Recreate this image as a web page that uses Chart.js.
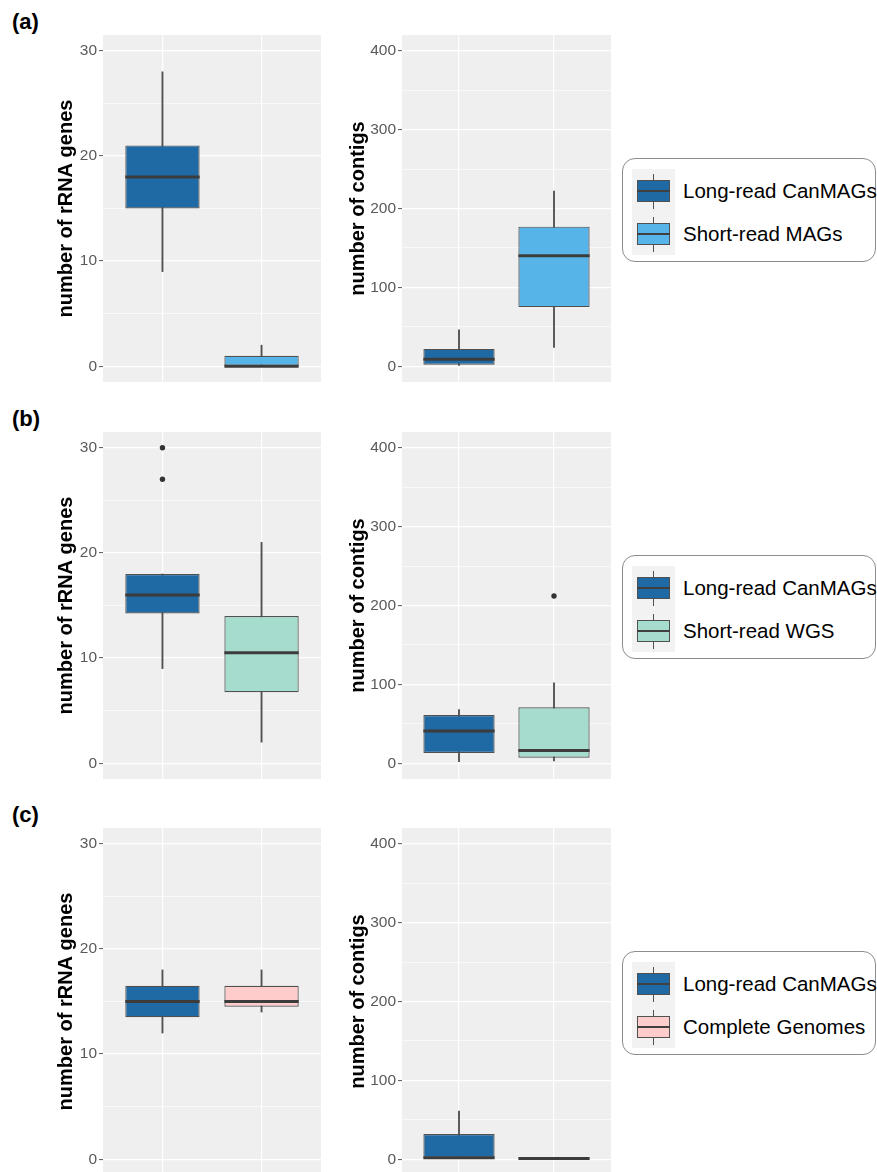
<!DOCTYPE html>
<html>
<head>
<meta charset="utf-8">
<script src="https://cdn.jsdelivr.net/npm/chart.js"></script>
<style>
  html, body { margin: 0; padding: 0; background: #ffffff; }
  body { position: relative; width: 877px; height: 1172px; overflow: hidden;
         font-family: "Liberation Sans", Arial, Helvetica, sans-serif; }
  canvas { position: absolute; }
  .abs { position: absolute; }
  .plabel { position: absolute; left: 12px; font-weight: bold; font-size: 22px; line-height: 22px; color: #000; }
  .lgbox { position: absolute; box-sizing: border-box; border: 1.5px solid #8c8c8c; border-radius: 13px; }
  .lgtext { position: absolute; font-size: 20.5px; line-height: 24px; color: #000; white-space: nowrap; }
</style>
</head>
<body>
<script>
// ---------------- DATA ----------------
const categories = ['Long-read CanMAGs', 'Short-read MAGs', 'Short-read WGS', 'Complete Genomes'];
const panelLabels = ['(a)', '(b)', '(c)'];
const yTitles = ['number of rRNA genes', 'number of contigs'];

// five-number summaries: [lower whisker, Q1, median, Q3, upper whisker]
const rrnaA_long     = [9, 15, 18, 21, 28];
const rrnaA_shortMAG = [0, 0, 0, 1, 2];
const contigsA_long     = [1, 2, 9, 22, 46];
const contigsA_shortMAG = [24, 75, 140, 177, 222];

const rrnaB_long     = [9, 14.25, 16, 18, 18];
const rrnaB_shortWGS = [2, 6.75, 10.5, 14, 21];
const contigsB_long     = [2, 13, 41, 61, 68];
const contigsB_shortWGS = [3, 7, 16, 71, 102];

const rrnaC_long     = [12, 13.5, 15, 16.5, 18];
const rrnaC_complete = [14, 14.5, 15, 16.5, 18];
const contigsC_long     = [1, 2, 2, 32, 61];
const contigsC_complete = [1, 1, 1, 1, 1];

// outliers
const rrnaB_long_out = [27, 30];
const contigsB_shortWGS_out = [212];

// axis ticks
const rrnaMajorTicks = [0, 10, 20, 30];
const rrnaMinorTicks = [5, 15, 25];
const contigsMajorTicks = [0, 100, 200, 300, 400];
const contigsMinorTicks = [50, 150, 250, 350];
const rrnaRange = [-1.5, 31.5];
const contigsRange = [-20, 420];

// ---------------- STYLE ----------------
const fillColors = ['#1f69a5', '#56b4e9', '#a6dccd', '#ffcccc'];
const FONT = '"Liberation Sans", Arial, Helvetica, sans-serif';
const rowTops = [0, 397, 793];

const rows = [
  { groups: [0, 1], rrna: [rrnaA_long, rrnaA_shortMAG], contigs: [contigsA_long, contigsA_shortMAG],
    rrnaOut: [[], []], contigsOut: [[], []] },
  { groups: [0, 2], rrna: [rrnaB_long, rrnaB_shortWGS], contigs: [contigsB_long, contigsB_shortWGS],
    rrnaOut: [rrnaB_long_out, []], contigsOut: [[], contigsB_shortWGS_out] },
  { groups: [0, 3], rrna: [rrnaC_long, rrnaC_complete], contigs: [contigsC_long, contigsC_complete],
    rrnaOut: [[], []], contigsOut: [[], []] }
];

const panelBg = {
  id: 'panelBg',
  beforeDraw(chart) {
    const { ctx, chartArea: a } = chart;
    ctx.save();
    ctx.fillStyle = '#efefef';
    ctx.fillRect(a.left, a.top, a.right - a.left, a.bottom - a.top);
    ctx.restore();
  }
};

function addEl(cls, css, text) {
  const d = document.createElement('div');
  d.className = cls;
  Object.assign(d.style, css);
  if (text !== undefined) d.textContent = text;
  document.body.appendChild(d);
  return d;
}

function boxChart(left, top, width, stats, outliers, groups, range, majors, minors, title, axisWidth) {
  const cv = document.createElement('canvas');
  cv.width = width; cv.height = 396;
  cv.style.left = left + 'px'; cv.style.top = top + 'px';
  document.body.appendChild(cv);
  const xs = [1, 2];
  const allTicks = majors.concat(minors).sort((a, b) => a - b);
  const isMajor = v => majors.includes(v);
  const halfBox = ctx => {
    const s = ctx.chart.scales.x;
    return Math.abs(s.getPixelForValue(1.375) - s.getPixelForValue(1));
  };
  const outPts = [];
  outliers.forEach((arr, i) => arr.forEach(v => outPts.push({ x: xs[i], y: v })));

  new Chart(cv, {
    type: 'bar',
    data: {
      datasets: [
        { type: 'scatter', label: 'median',
          data: stats.map((s, i) => ({ x: xs[i], y: s[2] })),
          pointStyle: 'line', pointRadius: halfBox, pointBorderWidth: 3,
          pointBorderColor: '#3c3c3c', pointBackgroundColor: '#3c3c3c', order: 1 },
        { type: 'scatter', label: 'outliers',
          data: outPts,
          pointStyle: 'circle', pointRadius: 2.7, pointBorderWidth: 0,
          pointBackgroundColor: '#333333', order: 1 },
        { type: 'bar', label: 'box',
          data: stats.map((s, i) => ({ x: xs[i], y: [s[1], s[3]] })),
          backgroundColor: groups.map(g => fillColors[g]),
          borderColor: '#505050', borderWidth: 1.2, borderSkipped: false,
          grouped: false, barPercentage: 0.75, categoryPercentage: 1, order: 2 },
        { type: 'bar', label: 'whisker',
          data: stats.map((s, i) => ({ x: xs[i], y: [s[0], s[4]] })),
          backgroundColor: '#505050', borderWidth: 0,
          grouped: false, barThickness: 1.2, order: 3 }
      ]
    },
    options: {
      responsive: false, animation: false, events: [],
      layout: { padding: { top: 35, bottom: 14, left: 0, right: 9 } },
      plugins: { legend: { display: false }, tooltip: { enabled: false } },
      scales: {
        x: {
          type: 'linear', min: 0.4, max: 2.6, offset: false,
          afterBuildTicks: s => { s.ticks = xs.map(v => ({ value: v })); },
          afterFit: s => { s.height = 0; },
          ticks: { display: false },
          grid: { color: '#ffffff', lineWidth: 1.2, drawTicks: false, offset: false },
          border: { display: false }
        },
        y: {
          type: 'linear', min: range[0], max: range[1],
          afterBuildTicks: s => { s.ticks = allTicks.map(v => ({ value: v })); },
          afterFit: s => { s.width = axisWidth; },
          ticks: {
            callback: v => isMajor(v) ? String(v) : '',
            color: '#5a5a5a', font: { family: FONT, size: 15.5 }, padding: 2,
            autoSkip: false, maxRotation: 0
          },
          grid: {
            color: '#ffffff',
            lineWidth: c => (c.tick && isMajor(c.tick.value)) ? 1.2 : 0.6,
            tickColor: c => (c.tick && isMajor(c.tick.value)) ? '#555555' : 'rgba(0,0,0,0)',
            tickLength: 4, tickWidth: 1, drawTicks: true
          },
          border: { display: false },
          title: {
            display: true, text: title, color: '#000000',
            font: { family: FONT, size: 20, weight: 'bold', lineHeight: 1.2 },
            padding: { top: 14, bottom: 0 }
          }
        }
      }
    },
    plugins: [panelBg]
  });
}

function legend(top, groups) {
  addEl('lgbox', { left: '622px', top: (top + 158) + 'px', width: '254px', height: '104px' });
  addEl('abs', { left: '632px', top: (top + 169) + 'px', width: '43px', height: '86px', background: '#f2f2f2' });
  groups.forEach((g, i) => {
    const cy = top + 191 + i * 43;
    addEl('abs', { left: '653px', top: (cy - 17.5) + 'px', width: '1.2px', height: '35px', background: '#505050' });
    addEl('abs', { left: '637px', top: (cy - 11) + 'px', width: '33px', height: '22px', background: fillColors[g],
                   boxSizing: 'border-box', border: '1.2px solid #505050' });
    addEl('abs', { left: '637px', top: (cy - 1) + 'px', width: '33px', height: '2px', background: '#404040' });
    addEl('lgtext', { left: '683px', top: (cy - 12) + 'px' }, categories[g]);
  });
}

rows.forEach((r, k) => {
  const top = rowTops[k];
  addEl('plabel', { top: (top + 11) + 'px' }, panelLabels[k]);
  boxChart(40, top, 290, r.rrna, r.rrnaOut, r.groups, rrnaRange, rrnaMajorTicks, rrnaMinorTicks, yTitles[0], 63);
  boxChart(332, top, 288, r.contigs, r.contigsOut, r.groups, contigsRange, contigsMajorTicks, contigsMinorTicks, yTitles[1], 70);
  legend(top, r.groups);
});
</script>
</body>
</html>
